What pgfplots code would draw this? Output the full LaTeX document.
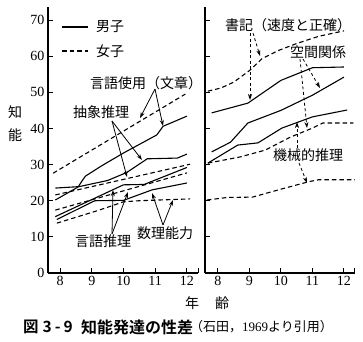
\documentclass[border=0pt]{standalone}
\usepackage{fontspec}
\setmainfont{Liberation Serif}
\newfontfamily\cjk{Noto Sans CJK JP}
\newfontfamily\cjkb{Noto Sans CJK JP Bold}
\usepackage{pgfplots}
\pgfplotsset{compat=1.18}
\usetikzlibrary{arrows.meta}
\newcommand\lab{\cjk\fontsize{14bp}{16bp}\selectfont}
\begin{document}
\begin{tikzpicture}
\useasboundingbox (0,0) rectangle (363bp,-342bp);
\pgfplotsset{
  myax/.style={
    scale only axis, width=150bp, height=266bp,
    ymin=0, ymax=73.6, xmax=12.35,
    axis lines*=left,
    axis line style={line width=1.2bp,-},
    tick align=inside, major tick length=5bp,
    tick style={line width=1bp,black},
    xtick={8,9,10,11,12}, ytick={0,10,...,70},
    extra x ticks={12.35}, extra x tick labels={},
    /pgf/number format/assume math mode=true,
    tick label style={font=\fontsize{14bp}{16bp}\selectfont},
    clip=false,
  },
  ms/.style={black, line width=1.1bp, no marks},
  fs/.style={black, line width=1.1bp, no marks, dash pattern=on 4.5bp off 3bp},
}
% ---------- left panel ----------
\begin{axis}[myax, at={(48bp,-273bp)}, anchor=south west, xmin=7.62]
% 言語使用
\addplot[fs] coordinates {(7.78,27.6) (11.95,49.5)};
\addplot[ms] coordinates {(7.85,20.2) (8.57,23.8) (8.68,25.3) (8.8,26.8) (9.3,29.6) (10,33.2) (11.05,38.2) (11.25,40.6) (12,43.4)};
% 抽象推理
\addplot[ms] coordinates {(7.85,23.5) (8.6,23.9) (9.5,25.6) (10.1,27.8) (10.75,31.6) (11.7,31.8) (12,32.9)};
\addplot[fs] coordinates {(7.85,21.6) (12.1,30.1)};
% 言語推理
\addplot[ms] coordinates {(7.85,15.6) (10.0,24.4) (10.65,24.5) (12,29.2)};
\addplot[fs] coordinates {(7.85,17.4) (12,27.7)};
% 数理能力
\addplot[ms] coordinates {(7.9,14.8) (9,19.6) (9.1,20) (10,20.1) (10.9,23) (12,24.9)};
\addplot[fs] coordinates {(7.9,13.8) (9.2,17.3) (10,19.7) (10.5,20) (12.1,20.5)};
\end{axis}
% ---------- right panel ----------
\begin{axis}[myax, at={(205bp,-273bp)}, anchor=south west, xmin=7.59, yticklabels={}]
% 書記
\addplot[fs] coordinates {(7.68,50.3) (8.1,51.2) (8.5,52.8) (9,56) (9.4,59.3) (9.9,61.5) (10.5,63.5) (11.2,65.5) (12,67)};
\addplot[ms] coordinates {(7.8,44.3) (8.95,47) (9.25,48.8) (10,53.3) (11,56.8) (12,57)};
% 空間関係
\addplot[ms] coordinates {(7.8,33.5) (8.4,36.2) (8.95,41.5) (10,45) (11,49.2) (12,54.2)};
\addplot[fs] coordinates {(7.68,30.4) (8.7,32.1) (9.5,34) (10.3,37.6) (11,40.1) (11.33,41.5) (12.3,41.5)};
% 機械的推理
\addplot[ms] coordinates {(7.68,30.4) (8.63,35.4) (9.27,36) (10.03,40.1) (11,43.2) (12.1,45.1)};
\addplot[fs] coordinates {(7.65,20.2) (8.3,20.9) (9.1,21) (10,23.2) (10.9,25.3) (11.2,25.8) (12.35,25.8)};
\end{axis}
% ---------- legend ----------
\draw[black, line width=1.1bp] (62bp,-27bp) -- (88bp,-27bp);
\draw[black, line width=1.1bp, dash pattern=on 4.5bp off 3bp] (62bp,-51bp) -- (88bp,-51bp);
\node[inner sep=0, anchor=west] at (96bp,-27bp) {\lab 男子};
\node[inner sep=0, anchor=west] at (96bp,-51bp) {\lab 女子};
% ---------- labels ----------
\node[inner sep=0] at (146bp,-83bp) {\lab 言語使用（文章）};
\node[inner sep=0] at (101bp,-112bp) {\lab 抽象推理};
\node[inner sep=0] at (103bp,-241bp) {\lab 言語推理};
\node[inner sep=0] at (165bp,-233bp) {\lab 数理能力};
\node[inner sep=0] at (288bp,-25bp) {\lab 書記（速度と正確）};
\node[inner sep=0] at (318bp,-52bp) {\lab 空間関係};
\node[inner sep=0] at (308bp,-155bp) {\lab 機械的推理};
\node[inner sep=0] at (15bp,-112bp) {\lab 知};
\node[inner sep=0] at (15bp,-135bp) {\lab 能};
\node[inner sep=0] at (192bp,-303bp) {\lab 年};
\node[inner sep=0] at (222bp,-303bp) {\lab 齢};
% ---------- arrows ----------
\begin{scope}[black, line width=0.8bp, -{Stealth[length=6bp,width=4bp]}]
\draw (155bp,-89bp) -- (140bp,-118bp);
\draw (155bp,-89bp) -- (163bp,-126bp);
\draw (112bp,-121bp) -- (127bp,-177bp);
\draw (112bp,-121bp) -- (142bp,-160bp);
\draw (112bp,-234bp) -- (113bp,-190bp);
\draw (112bp,-234bp) -- (128bp,-192bp);
\draw (163bp,-225bp) -- (152bp,-193bp);
\draw (163bp,-225bp) -- (173bp,-200bp);
\end{scope}
\begin{scope}[black, line width=0.8bp, dash pattern=on 3bp off 2.5bp, -{Stealth[length=6bp,width=4bp]}]
\draw (250bp,-33bp) -- (250bp,-100bp);
\draw (253bp,-33bp) -- (260bp,-56bp);
\draw (300bp,-59bp) -- (307bp,-128bp);
\draw (303bp,-59bp) -- (320bp,-88bp);
\draw (297bp,-148bp) -- (297bp,-122bp);
\draw (299bp,-163bp) -- (307bp,-183bp);
\end{scope}
% ---------- caption ----------
\node[inner sep=0, anchor=west] at (23bp,-327bp) {\cjkb\fontsize{15.5bp}{17bp}\selectfont 図\hspace{4bp}3\hspace{3bp}-\hspace{3bp}9};
\node[inner sep=0, anchor=west] at (81bp,-327bp) {\cjkb\fontsize{16bp}{18bp}\selectfont 知能発達の性差};
\node[inner sep=0, anchor=west] at (190bp,-327bp) {\cjk\fontsize{13bp}{15bp}\selectfont （石田，{\rmfamily 1969}より引用）};
\end{tikzpicture}
\end{document}
